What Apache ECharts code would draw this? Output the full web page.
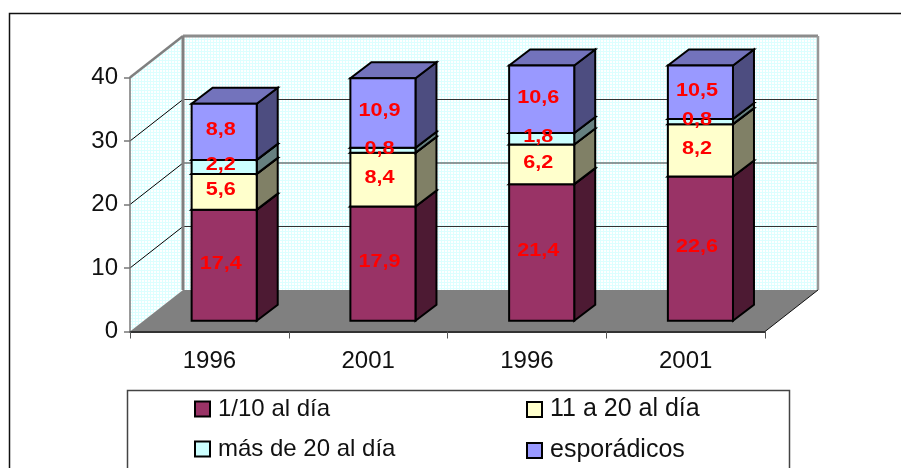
<!DOCTYPE html>
<html><head><meta charset="utf-8">
<style>html,body{margin:0;padding:0;background:#fff}#c{width:901px;height:468px}</style>
<script src="https://cdn.jsdelivr.net/npm/echarts@6/dist/echarts.min.js"></script>
</head><body><div id="c"></div>
<script>
const categories = ['1996','2001','1996','2001'];
const yTicks = [0,10,20,30,40];
const unaDiez = [17.4,17.9,21.4,22.6];
const onceVeinte = [5.6,8.4,6.2,8.2];
const masVeinte = [2.2,0.8,1.8,0.8];
const esporadicos = [8.8,10.9,10.6,10.5];
const seriesNames = ['1/10 al día','11 a 20 al día','más de 20 al día','esporádicos'];
const yMax = 40;

const FONT = '"Liberation Sans", Arial, sans-serif';
const front = ['#993366','#FFFFCC','#CCFFFF','#9999FF'];
const side  = ['#4D1A33','#808066','#668080','#4D4D80'];
const top_  = ['#7A2952','#CCCCA3','#A3CCCC','#7373BC'];

// 3D projection constants (px)
const wallDX = 53, wallDY = -41.5;
const barDX = 14.8, barDY = -10.8, depthX = 21, depthY = -16, barScale = 1.005;

const tile = document.createElement('canvas');
tile.width = 3; tile.height = 3;
(function(){const t=tile.getContext('2d');t.fillStyle='#fff';t.fillRect(0,0,3,3);t.fillStyle='#DDFFFF';t.fillRect(0,0,3,1);t.fillRect(0,0,1,3);})();
const wallFill = {image: tile, repeat: 'repeat'};

function poly(points, fill, stroke, lw, z2){
  return {type:'polygon', shape:{points}, z2:z2||0, style:{fill, stroke:stroke||null, lineWidth:lw||0, lineJoin:'miter'}};
}
function line(a,b,color,lw,z2){
  return {type:'line', shape:{x1:a[0],y1:a[1],x2:b[0],y2:b[1]}, z2:z2||0, style:{stroke:color,lineWidth:lw,fill:null}};
}

function renderWalls(params, api){
  const x0 = api.coord([0,0])[0] - api.size([1,0])[0]/2;
  const x1 = x0 + api.size([1,0])[0]*categories.length;
  const y0 = api.coord([0,0])[1], y40 = api.coord([0,yMax])[1];
  const d = (p)=>[p[0]+wallDX,p[1]+wallDY];
  const ch = [];
  ch.push(poly([[x0,y40],d([x0,y40]),d([x0,y0]),[x0,y0]], wallFill));
  ch.push(poly([d([x0,y40]),d([x1,y40]),d([x1,y0]),d([x0,y0])], wallFill));
  ch.push(poly([[x0,y0],[x1,y0],d([x1,y0]),d([x0,y0])], '#808080'));
  yTicks.forEach(v=>{
    if(v===0||v===yMax) return;
    const y = api.coord([0,v])[1];
    ch.push(line([x0,y],d([x0,y]),'#000',1,1));
    ch.push(line(d([x0,y]),d([x1,y]),'#333',1,1));
  });
  ch.push(line([x0,y40],d([x0,y40]),'#808080',2.5,2));
  ch.push(line(d([x0,y40]),d([x1,y40]),'#8c8c8c',3,2));
  ch.push(line(d([x0,y40]),d([x0,y0]),'#808080',3,2));
  ch.push(line(d([x1,y40]),d([x1,y0]),'#999',2.5,2));
  ch.push(line([x1,y0],d([x1,y0]),'#111',1,2));
  return {type:'group', children:ch};
}

function renderSeg(params, api){
  const idx = api.value(0), a = api.value(1), b = Math.min(api.value(2), yMax), val = api.value(3);
  const band = api.size([1,0])[0], w = band*0.41;
  const y0 = api.coord([idx,0]);
  const pA = api.coord([idx,a]), pB = api.coord([idx,b]);
  const xl = y0[0]+barDX-w/2, xr = xl+w;
  const yb = y0[1]+barDY-(y0[1]-pA[1])*barScale, yt = y0[1]+barDY-(y0[1]-pB[1])*barScale;
  const s = params.seriesIndex-1;
  const e = {stroke:'#000', lw:2};
  return {type:'group', children:[
    poly([[xr,yb],[xr+depthX,yb+depthY],[xr+depthX,yt+depthY],[xr,yt]], side[s], e.stroke, e.lw),
    poly([[xl,yt],[xr,yt],[xr+depthX,yt+depthY],[xl+depthX,yt+depthY]], top_[s], e.stroke, e.lw),
    poly([[xl,yb],[xr,yb],[xr,yt],[xl,yt]], front[s], e.stroke, e.lw),
    {type:'text', x:(xl+xr)/2-3.5, y:(yb+yt)/2-1.5, scaleX:1.2, z2:100,
     style:{text:String(val).replace('.',','), fill:'#FF0000', fontFamily:FONT, fontWeight:'bold', fontSize:18, align:'center', verticalAlign:'middle'}}
  ]};
}

function stackData(vals, below){
  return vals.map((v,i)=>{const s=below.reduce((t,arr)=>t+arr[i],0);return [i,s,s+v,v];});
}
const groups = [unaDiez,onceVeinte,masVeinte,esporadicos];
const barSeries = groups.map((g,i)=>({
  type:'custom', name:seriesNames[i], z:3, coordinateSystem:'cartesian2d',
  itemStyle:{color:front[i]}, renderItem:renderSeg,
  encode:{x:0,y:[1,2]}, data:stackData(g,groups.slice(0,i)), silent:true
}));

const chart = echarts.init(document.getElementById('c'),null,{renderer:'canvas'});
const legendBase = {orient:'vertical', top:397, itemWidth:15, itemHeight:15, itemGap:16, icon:'rect',
  itemStyle:{borderColor:'#000',borderWidth:2}, selectedMode:false, padding:0};
chart.setOption({
  animation:false, backgroundColor:'#fff',
  grid:{left:130,top:77.5,width:635,height:254},
  xAxis:{type:'category',data:categories,z:5,
    axisLine:{show:true,lineStyle:{color:'#333',width:2}},
    axisTick:{show:true,length:7,lineStyle:{color:'#555',width:1}},
    axisLabel:{fontFamily:FONT,fontSize:24,color:'#111',margin:18},splitLine:{show:false}},
  yAxis:{type:'value',min:0,max:yMax,interval:10,z:5,
    axisLine:{show:true,lineStyle:{color:'#777',width:1.5}},
    axisTick:{show:true,length:6,lineStyle:{color:'#777',width:1.5}},
    axisLabel:{fontFamily:FONT,fontSize:24,color:'#111',margin:12},splitLine:{show:false}},
  legend:[
    Object.assign({},legendBase,{left:194,data:[seriesNames[0],seriesNames[2]],
      textStyle:{fontFamily:FONT,fontSize:24,color:'#111',padding:[0,0,0,3]}}),
    Object.assign({},legendBase,{left:526,data:[seriesNames[1],seriesNames[3]],
      textStyle:{fontFamily:FONT,fontSize:25,color:'#111',padding:[0,0,0,3]}})
  ],
  graphic:[
    {type:'polyline',z:0,silent:true,shape:{points:[[9.5,480],[9.5,13.5],[905,13.5]]},style:{stroke:'#111',lineWidth:1.5,fill:null}},
    {type:'rect',z:0,silent:true,shape:{x:127.5,y:390.5,width:662,height:90},style:{stroke:'#444',lineWidth:1.5,fill:'#fff'}}
  ],
  series:[{type:'custom',z:1,silent:true,coordinateSystem:'cartesian2d',renderItem:renderWalls,encode:{x:0,y:1},data:[[0,0]]}].concat(barSeries)
});
</script></body></html>
